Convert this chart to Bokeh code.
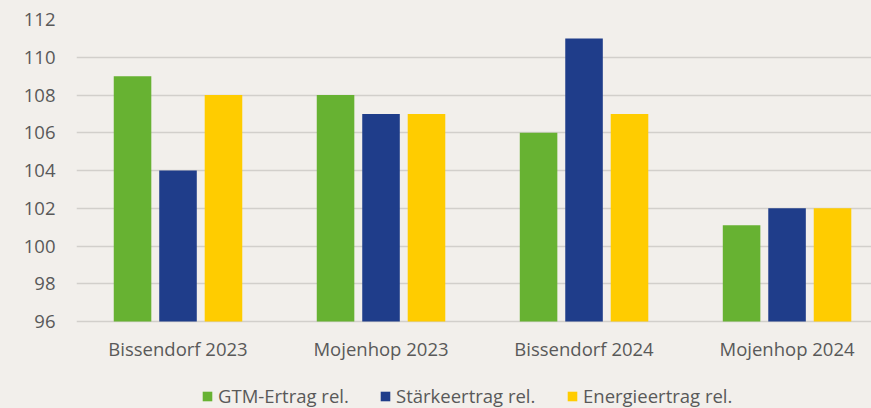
from bokeh.plotting import figure
from bokeh.models import (ColumnDataSource, FixedTicker, Range1d, Legend, LegendItem,
                          GlobalInlineStyleSheet)
from bokeh.transform import dodge
from bokeh.embed import file_html
from bokeh.resources import INLINE

# ---- data ----
sites = ["Bissendorf 2023", "Mojenhop 2023", "Bissendorf 2024", "Mojenhop 2024"]
gtm_ertrag = [109, 108, 106, 101.1]
staerkeertrag = [104, 107, 111, 102]
energieertrag = [108, 107, 107, 102]
y_ticks = [96, 98, 100, 102, 104, 106, 108, 110, 112]
series_names = ["GTM-Ertrag rel.", "Stärkeertrag rel.", "Energieertrag rel."]

BG = "#f2efeb"
TXT = "#595959"
FONT = "Open Sans"
FS = "18.5px"
COLORS = ["#67b232", "#1f3d8a", "#ffcc00"]
BASE = 96

src = ColumnDataSource(dict(x=list(range(len(sites))), gtm=gtm_ertrag,
                            st=staerkeertrag, en=energieertrag))

# frame spans to the bottom of the canvas so the legend is not clipped;
# value 96 sits at the same height as in the reference (18.875 px per unit)
p = figure(width=871, height=408, output_backend="svg", toolbar_location=None,
           x_range=Range1d(-0.5, 3.416), y_range=Range1d(96 - 87 / 18.875, 112),
           min_border_left=76, min_border_right=0, min_border_top=19,
           min_border_bottom=0)
p.stylesheets = [GlobalInlineStyleSheet(css="html,body{margin:0;padding:0;background:%s;overflow:hidden}" % BG)]
p.background_fill_color = BG
p.border_fill_color = BG
p.outline_line_color = None

off = 0.224
w = 0.185
r1 = p.vbar(x=dodge("x", -off), top="gtm", bottom=BASE, width=w, source=src,
            fill_color=COLORS[0], line_color=None)
r2 = p.vbar(x=dodge("x", 0), top="st", bottom=BASE, width=w, source=src,
            fill_color=COLORS[1], line_color=None)
r3 = p.vbar(x=dodge("x", off), top="en", bottom=BASE, width=w, source=src,
            fill_color=COLORS[2], line_color=None)

# axes
p.xaxis.ticker = FixedTicker(ticks=list(range(len(sites))))
p.xaxis.major_label_overrides = {i: s for i, s in enumerate(sites)}
p.xaxis.fixed_location = BASE
p.yaxis.ticker = FixedTicker(ticks=y_ticks)
for ax in (p.xaxis[0], p.yaxis[0]):
    ax.axis_line_color = None
    ax.major_tick_line_color = None
    ax.minor_tick_line_color = None
    ax.major_tick_out = 0
    ax.major_tick_in = 0
    ax.major_label_text_color = TXT
    ax.major_label_text_font = FONT
    ax.major_label_text_font_size = FS
p.xaxis.major_label_standoff = 14
p.yaxis.major_label_standoff = 21

p.xgrid.grid_line_color = None
p.ygrid.grid_line_color = "#d2cfcb"
p.ygrid.grid_line_width = 1.5

# legends (one per entry, positioned individually inside the frame)
legend_x = [125, 303, 490]
for rend, name, lx in zip([r1, r2, r3], series_names, legend_x):
    lg = Legend(items=[LegendItem(label=name, renderers=[rend])],
                location=(lx, 0), orientation="horizontal",
                glyph_width=12, glyph_height=12, label_height=12,
                label_standoff=5, padding=0, margin=0, spacing=0,
                border_line_color=None, background_fill_alpha=0,
                label_text_font=FONT, label_text_font_size=FS,
                label_text_color=TXT, label_text_baseline="alphabetic")
    p.add_layout(lg)

open("out.html", "w").write(file_html(p, INLINE))
